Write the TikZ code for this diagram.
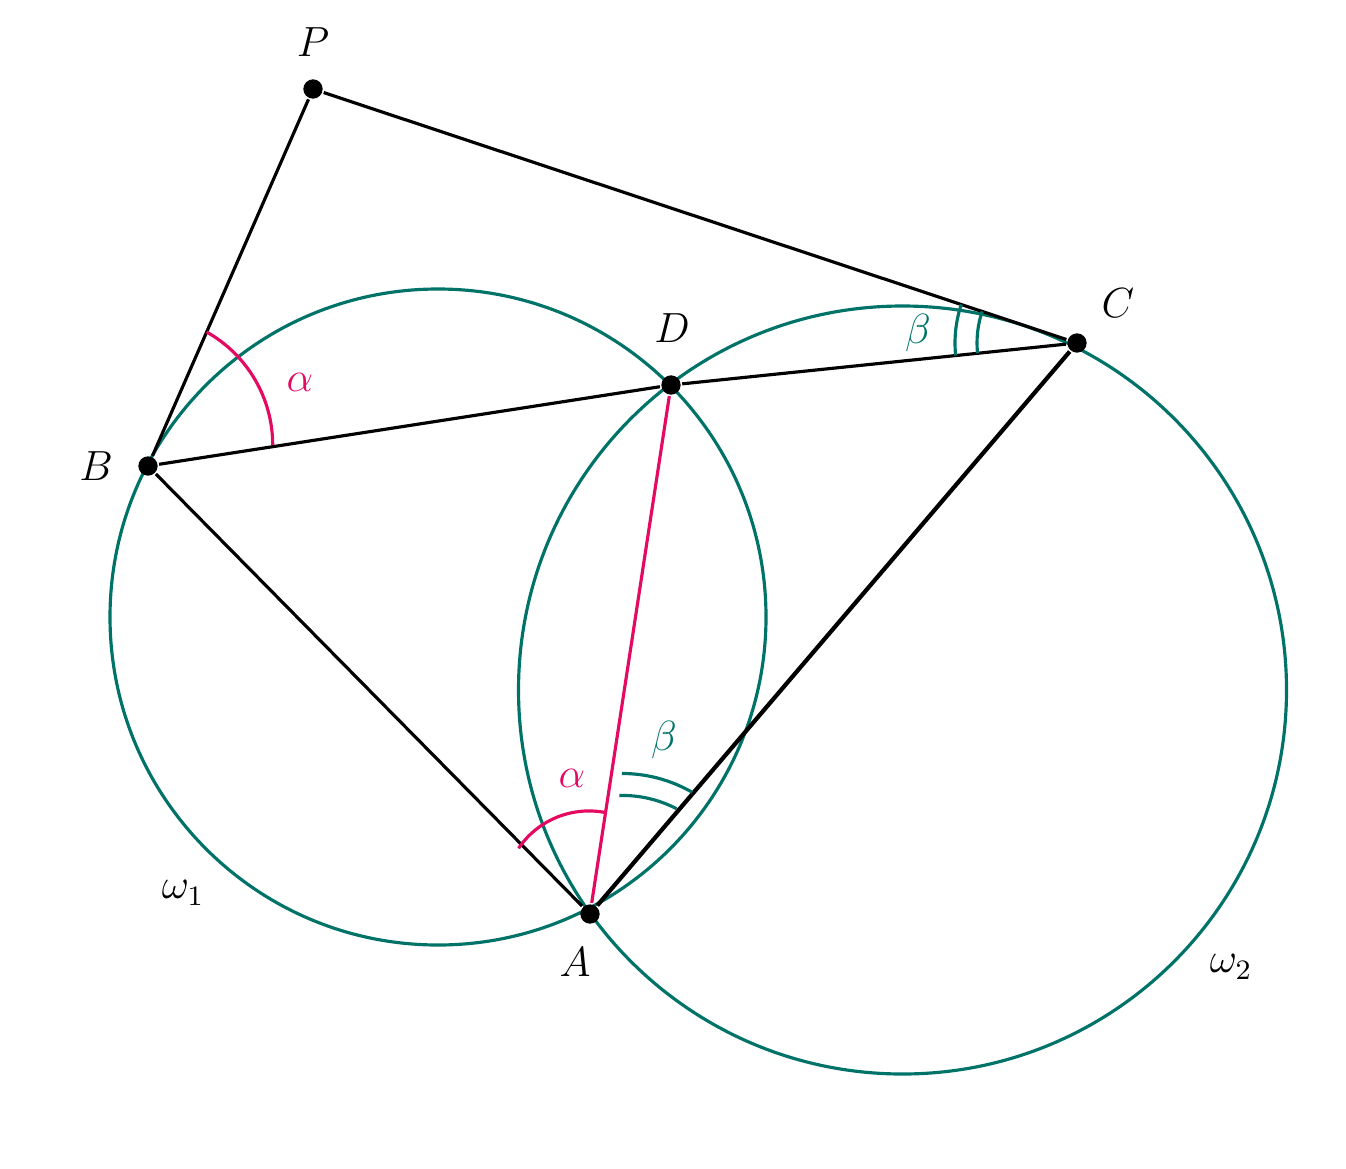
\documentclass[tikz,border=0pt]{standalone}
\definecolor{circteal}{RGB}{0,115,105}
\definecolor{anglered}{RGB}{228,10,98}
\begin{document}
\begin{tikzpicture}[
    line width=0.9pt,
    dot/.style={circle,fill=black,inner sep=0pt,minimum size=5.5pt},
    lbl/.style={font=\large},
  ]
  \useasboundingbox (0,0) rectangle (13.46,11.68);
  % circles
  \coordinate (O1) at (4.38,5.51);
  \coordinate (O2) at (9.025,4.78);
  \draw[circteal] (O1) circle (3.28);
  \draw[circteal] (O2) circle (3.84);
  % points
  \node[dot] (P) at (3.13,10.79) {};
  \node[dot] (C) at (10.77,8.25) {};
  \node[dot] (B) at (1.48,7.02) {};
  \node[dot] (D) at (6.71,7.83) {};
  \node[dot] (A) at (5.90,2.54) {};
  % lines
  \draw (B) -- (P) -- (C);
  \draw (B) -- (D) -- (C);
  \draw (B) -- (A);
  \draw[line width=1.2pt] (A) -- (C);
  \draw[anglered] (A) -- (D);
  % angle marks
  \draw[anglered] (2.727,7.23) arc[start angle=0, end angle=60.6, radius=1.297];
  \draw[anglered] (6.066,3.552) arc[start angle=78, end angle=145.9, radius=0.85];
  \draw[circteal] (6.766,3.593) arc[start angle=62.6, end angle=91.3, radius=1.186];
  \draw[circteal] (6.9225,3.757) arc[start angle=60, end angle=90.1, radius=1.405];
  \draw[circteal] (C) ++(161.6:1.00) arc[start angle=161.6, end angle=185.9, radius=1.00];
  \draw[circteal] (C) ++(161.6:1.22) arc[start angle=161.6, end angle=185.9, radius=1.22];
  % labels
  \node[lbl] (lP) at (3.13,11.26) {$P$};
  \node[lbl] (lC) at (11.18,8.65) {$C$};
  \node[lbl] (lD) at (6.72,8.40) {$D$};
  \node[lbl] (lB) at (0.96,7.02) {$B$};
  \node[lbl] (lA) at (5.75,2.06) {$A$};
  \node[lbl] (w1) at (1.83,2.75) {$\omega_1$};
  \node[lbl] (w2) at (12.31,2.01) {$\omega_2$};
  \node[lbl,text=anglered] (aB) at (3.00,7.86) {$\alpha$};
  \node[lbl,text=anglered] (aA) at (5.72,3.90) {$\alpha$};
  \node[lbl,text=circteal] (bA) at (6.64,4.28) {$\beta$};
  \node[lbl,text=circteal] (bC) at (9.18,8.35) {$\beta$};
\end{tikzpicture}
\end{document}
